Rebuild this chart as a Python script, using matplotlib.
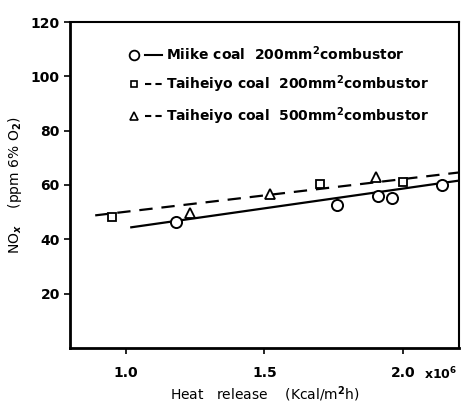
import matplotlib
matplotlib.use("Agg")
import matplotlib.pyplot as plt
from matplotlib.lines import Line2D
from matplotlib.legend_handler import HandlerTuple

# Data
miike_x = [1.18, 1.76, 1.91, 1.96, 2.14]
miike_y = [46.5, 52.5, 55.8, 55.3, 60.0]
tai200_x = [0.95, 1.70, 2.00]
tai200_y = [48.3, 60.3, 61.0]
tai500_x = [1.23, 1.52, 1.90]
tai500_y = [49.8, 56.5, 63.0]

# fitted lines (end points)
solid_x = [1.02, 2.20]
solid_y = [44.4, 61.6]
dash_x = [0.89, 2.20]
dash_y = [48.8, 64.6]

plt.rcParams['font.family'] = 'DejaVu Sans'
plt.rcParams['font.weight'] = 'bold'

fig = plt.figure(figsize=(4.62, 4.03), dpi=100)
ax = fig.add_axes([0.152, 0.137, 0.841, 0.808])

ax.plot(solid_x, solid_y, '-', color='black', lw=1.6)
ax.plot(dash_x, dash_y, '--', color='black', lw=1.6, dashes=(6, 4))
ax.plot(miike_x, miike_y, 'o', mfc='white', mec='black', ms=8, mew=1.4)
ax.plot(tai200_x, tai200_y, 's', mfc='white', mec='black', ms=6, mew=1.3)
ax.plot(tai500_x, tai500_y, '^', mfc='white', mec='black', ms=7, mew=1.3)

ax.set_xlim(0.80, 2.20)
ax.set_ylim(0, 120)
ax.set_xticks([1.0, 1.5, 2.0])
ax.set_xticklabels(['1.0', '1.5', '2.0'])
ax.set_yticks([20, 40, 60, 80, 100, 120])
ax.tick_params(labelsize=10, length=4, width=1.2)
ax.tick_params(axis='x', pad=9)
ax.text(2.135, -9.5, 'x10$^6$', fontsize=9, ha='center', va='center')

for s in ['left', 'bottom']:
    ax.spines[s].set_linewidth(2.0)
for s in ['top', 'right']:
    ax.spines[s].set_linewidth(1.5)

ax.set_xlabel('Heat   release    (Kcal/m$^2$h)', fontsize=10, labelpad=3)
ax.set_ylabel('NO$_x$    (ppm 6% O$_2$)', fontsize=10, labelpad=5)

h1 = (Line2D([], [], marker='o', ls='none', mfc='white', mec='black', ms=7, mew=1.3),
      Line2D([], [], ls='-', color='black', lw=1.5))
h2 = (Line2D([], [], marker='s', ls='none', mfc='white', mec='black', ms=5, mew=1.2),
      Line2D([], [], ls='--', color='black', lw=1.5, dashes=(3, 2)))
h3 = (Line2D([], [], marker='^', ls='none', mfc='white', mec='black', ms=6, mew=1.2),
      Line2D([], [], ls='--', color='black', lw=1.5, dashes=(3, 2)))
ax.legend([h1, h2, h3],
          ['Miike coal  200mm$^2$combustor',
           'Taiheiyo coal  200mm$^2$combustor',
           'Taiheiyo coal  500mm$^2$combustor'],
          handler_map={tuple: HandlerTuple(ndivide=None, pad=0.2)},
          handlelength=2.6, loc='upper left', bbox_to_anchor=(0.11, 0.97),
          frameon=False, fontsize=10, labelspacing=0.75, handletextpad=0.3)

fig.savefig('out.png', dpi=100)
